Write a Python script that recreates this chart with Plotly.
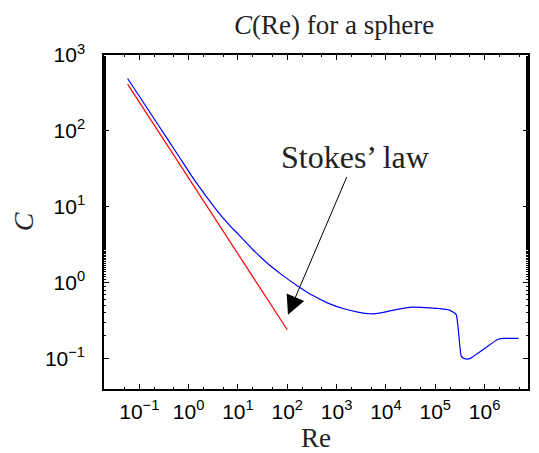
import plotly.graph_objects as go

# Drag coefficient data for a sphere
re_sphere = [0.058, 0.239, 0.609, 1.226, 2.356, 3.936, 6.797, 10, 20.2, 40.6, 81.8,
             164.7, 331.6, 667.6, 1344, 2707, 4741, 8000,
             15000, 35000, 110000, 195000, 266000, 336000, 394000, 500000,
             1.86e6, 2.34e6, 4.9e6]
c_sphere = [490, 121.4, 48.2, 24.0, 13.33, 8.6, 5.71, 4.4, 2.72, 1.78, 1.24,
            0.902, 0.677, 0.539, 0.457, 0.411, 0.39, 0.40,
            0.44, 0.478, 0.46, 0.436, 0.38, 0.108, 0.1, 0.1,
            0.18, 0.185, 0.185]

# Stokes' law line C = 24/Re (endpoints)
re_stokes = [0.058, 100]
c_stokes = [414, 0.24]

x_tickvals = [1e-1, 1e0, 1e1, 1e2, 1e3, 1e4, 1e5, 1e6]
x_ticktext = ["10<sup>−1</sup>", "10<sup>0</sup>", "10<sup>1</sup>", "10<sup>2</sup>",
              "10<sup>3</sup>", "10<sup>4</sup>", "10<sup>5</sup>", "10<sup>6</sup>"]
y_tickvals = [1e-1, 1e0, 1e1, 1e2, 1e3]
y_ticktext = ["10<sup>−1</sup>", "10<sup>0</sup>", "10<sup>1</sup>", "10<sup>2</sup>", "10<sup>3</sup>"]

serif = "Liberation Serif, DejaVu Serif, serif"
sans = "Liberation Sans, Arial, sans-serif"

fig = go.Figure()
fig.add_trace(go.Scatter(x=re_sphere, y=c_sphere, mode="lines",
                         line=dict(color="#0000ff", width=1.2, shape="spline", smoothing=0.4),
                         showlegend=False))
fig.add_trace(go.Scatter(x=re_stokes, y=c_stokes, mode="lines",
                         line=dict(color="#ff0000", width=1.2), showlegend=False))

axis_common = dict(
    type="log", showgrid=False, zeroline=False,
    showline=True, linecolor="black", linewidth=1.5, mirror="allticks",
    ticks="inside", ticklen=5, tickwidth=1, tickcolor="black",
    minor=dict(ticks="inside", ticklen=2.5, tickwidth=1, tickcolor="black", showgrid=False),
    tickfont=dict(family=sans, size=21, color="black"),
)

fig.update_xaxes(range=[-1.715, 6.88], tickvals=x_tickvals, ticktext=x_ticktext,
                 ticklabelstandoff=3,
                 title=dict(text="Re", font=dict(family=serif, size=27, color="#222"), standoff=0),
                 **axis_common)
fig.update_yaxes(range=[-1.4, 3.0], tickvals=y_tickvals, ticktext=y_ticktext,
                 ticklabelstandoff=13,
                 title=dict(text="<i>C</i>", font=dict(family=serif, size=28, color="#222"), standoff=4),
                 **axis_common)

fig.add_annotation(
    x=2.014, y=-0.422, ax=3.375, ay=1.65, xref="x", yref="y", axref="x", ayref="y",
    text="Stokes’ law", showarrow=True, arrowhead=2, arrowsize=3.8, arrowwidth=1,
    arrowcolor="black", font=dict(family=serif, size=32, color="#222"),
)

fig.update_layout(
    width=539, height=453,
    margin=dict(l=96, r=19, t=47, b=72),
    paper_bgcolor="white", plot_bgcolor="white",
    title=dict(text="<i>C</i>(Re) for a sphere", x=0.605, xanchor="center",
               y=0.984, yanchor="top",
               font=dict(family=serif, size=27, color="#222")),
)

fig.write_html("out.html")
